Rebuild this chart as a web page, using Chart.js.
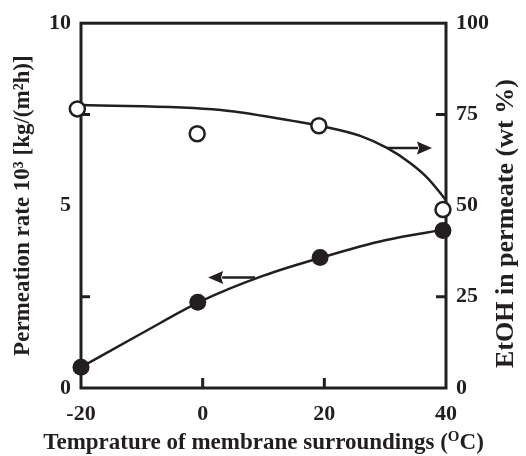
<!DOCTYPE html>
<html>
<head>
<meta charset="utf-8">
<script src="https://cdn.jsdelivr.net/npm/chart.js@4.4.1/dist/chart.umd.min.js"></script>
<style>
  html, body { margin: 0; padding: 0; background: #fff; }
  #wrap { width: 526px; height: 456px; }
</style>
</head>
<body>
<div id="wrap"><canvas id="plot" width="526" height="456"></canvas></div>
<script>
// measured points (temperature in C)
const tempRate = [-20, -0.8, 19.3, 39.5];
const rateValues = [0.57, 2.35, 3.58, 4.32];          // 10^3 kg/(m2 h), left axis
const tempEtoh = [-20.6, -0.9, 19.1, 39.5];
const etohValues = [76.5, 69.7, 71.9, 48.9];          // wt %, right axis

// hand-drawn fit curves
const rateCurveT = [-20, -10, 0, 10, 20, 30, 40];
const rateCurve = [0.57, 1.5, 2.4, 3.08, 3.6, 4.05, 4.35];
const etohCurveT = [-20, 3, 12, 20, 25.9, 30.3, 34.1, 36.9, 39, 40];
const etohCurve = [77.6, 76.2, 74.0, 71.6, 69.1, 65.8, 61.7, 57.7, 53.6, 51.4];

// axis ticks
const xTicks = [-20, 0, 20, 40];
const leftTicks = [0, 5, 10];
const rightTicks = [0, 25, 50, 75, 100];
const leftInnerTicks = [2.5, 7.5];
const rightInnerTicks = [25, 50, 75];
const bottomInnerTicks = [0, 20];

// arrows: [tailT, tipT, value]
const rateArrow = [8.6, 0.9, 3.03];
const etohArrow = [30.3, 37.7, 65.8];

const ink = "#231f20";
const serif = "'Liberation Serif', 'Times New Roman', serif";

const toXY = (xs, ys) => xs.map((x, i) => ({ x: x, y: ys[i] }));

const framePlugin = {
  id: "frame",
  beforeDatasetsDraw(chart) {
    const { ctx, chartArea: a, scales } = chart;
    ctx.save();
    ctx.strokeStyle = ink;
    ctx.lineWidth = 3;
    ctx.strokeRect(a.left, a.top, a.right - a.left, a.bottom - a.top);

    // inward ticks
    ctx.beginPath();
    leftInnerTicks.forEach(v => {
      const y = scales.y.getPixelForValue(v);
      ctx.moveTo(a.left, y); ctx.lineTo(a.left + 9, y);
    });
    rightInnerTicks.forEach(v => {
      const y = scales.y2.getPixelForValue(v);
      ctx.moveTo(a.right, y); ctx.lineTo(a.right - 10, y);
    });
    bottomInnerTicks.forEach(v => {
      const x = scales.x.getPixelForValue(v);
      ctx.moveTo(x, a.bottom); ctx.lineTo(x, a.bottom - 10);
    });
    ctx.stroke();

    // arrows pointing to the axis each curve belongs to
    function arrow(spec, yScale) {
      const x0 = scales.x.getPixelForValue(spec[0]);
      const x1 = scales.x.getPixelForValue(spec[1]);
      const y = yScale.getPixelForValue(spec[2]);
      const dir = Math.sign(x1 - x0);
      const headLen = 14, half = 6.5;
      ctx.lineWidth = 2.5;
      ctx.beginPath();
      ctx.moveTo(x0, y); ctx.lineTo(x1 - dir * headLen, y);
      ctx.stroke();
      ctx.beginPath();
      ctx.moveTo(x1, y);
      ctx.lineTo(x1 - dir * (headLen + 1), y - half);
      ctx.lineTo(x1 - dir * (headLen - 1), y);
      ctx.lineTo(x1 - dir * (headLen + 1), y + half);
      ctx.closePath();
      ctx.fillStyle = ink;
      ctx.fill();
    }
    arrow(rateArrow, scales.y);
    arrow(etohArrow, scales.y2);
    ctx.restore();
  },
  afterDraw(chart) {
    const { ctx, chartArea: a } = chart;
    ctx.save();
    ctx.fillStyle = ink;
    ctx.textBaseline = "middle";

    // right title reads bottom-to-top like the left one
    ctx.save();
    ctx.translate(506, (a.top + a.bottom) / 2 + 18);
    ctx.rotate(-Math.PI / 2);
    ctx.font = "bold 26px " + serif;
    ctx.textAlign = "center";
    ctx.fillText("EtOH in permeate (wt %)", 0, 0);
    ctx.restore();

    // bottom title, wider than the axis so drawn here (with superscript O)
    const main = "Temprature of membrane surroundings (";
    const sup = "O";
    const tail = "C)";
    const big = "bold 23px " + serif;
    const small = "bold 15px " + serif;
    ctx.font = big;
    const w1 = ctx.measureText(main).width;
    const w3 = ctx.measureText(tail).width;
    ctx.font = small;
    const w2 = ctx.measureText(sup).width;
    let x = (a.left + a.right) / 2 - (w1 + w2 + w3) / 2;
    const y = 443;
    ctx.textAlign = "left";
    ctx.font = big;
    ctx.fillText(main, x, y);
    x += w1;
    ctx.font = small;
    ctx.fillText(sup, x, y - 6);
    x += w2;
    ctx.font = big;
    ctx.fillText(tail, x, y);
    ctx.restore();
  }
};

const tickFont = { family: serif, weight: "bold", size: 22 };
const titleFont = { family: serif, weight: "bold", size: 23 };

new Chart(document.getElementById("plot"), {
  type: "scatter",
  data: {
    datasets: [
      {
        label: "rate fit",
        data: toXY(rateCurveT, rateCurve),
        yAxisID: "y",
        showLine: true,
        cubicInterpolationMode: "monotone",
        borderColor: ink,
        borderWidth: 2.5,
        pointRadius: 0,
        order: 3
      },
      {
        label: "EtOH fit",
        data: toXY(etohCurveT, etohCurve),
        yAxisID: "y2",
        showLine: true,
        cubicInterpolationMode: "monotone",
        borderColor: ink,
        borderWidth: 2.5,
        pointRadius: 0,
        order: 3
      },
      {
        label: "Permeation rate",
        data: toXY(tempRate, rateValues),
        yAxisID: "y",
        pointRadius: 8.5,
        pointBackgroundColor: ink,
        pointBorderColor: ink,
        pointBorderWidth: 0,
        clip: false,
        order: 1
      },
      {
        label: "EtOH",
        data: toXY(tempEtoh, etohValues),
        yAxisID: "y2",
        pointRadius: 7.5,
        pointBackgroundColor: "#fff",
        pointBorderColor: ink,
        pointBorderWidth: 2.5,
        clip: false,
        order: 1
      }
    ]
  },
  options: {
    responsive: false,
    animation: false,
    events: [],
    layout: { padding: { top: 22, left: 0, right: 0, bottom: 0 } },
    plugins: { legend: { display: false }, tooltip: { enabled: false } },
    scales: {
      x: {
        type: "linear",
        position: "bottom",
        min: -20, max: 40,
        afterBuildTicks: s => { s.ticks = xTicks.map(v => ({ value: v })); },
        grid: { display: false, drawTicks: false },
        border: { display: false },
        ticks: { color: ink, font: tickFont, padding: 13, maxRotation: 0 },
        title: { display: false },
        afterFit: s => { s.height = 68; }
      },
      y: {
        position: "left",
        min: 0, max: 10,
        afterBuildTicks: s => { s.ticks = leftTicks.map(v => ({ value: v })); },
        grid: { display: false, drawTicks: false },
        border: { display: false },
        ticks: { color: ink, font: tickFont, padding: 10 },
        title: {
          display: true,
          text: "Permeation rate 10\u00B3 [kg/(m\u00B2h)]",
          color: ink, font: titleFont,
          padding: { top: 9, bottom: 0 }
        },
        afterFit: s => { s.width = 81; }
      },
      y2: {
        position: "right",
        min: 0, max: 100,
        afterBuildTicks: s => { s.ticks = rightTicks.map(v => ({ value: v })); },
        grid: { display: false, drawTicks: false },
        border: { display: false },
        ticks: { color: ink, font: tickFont, padding: 10 },
        afterFit: s => { s.width = 80; }
      }
    }
  },
  plugins: [framePlugin]
});
</script>
</body>
</html>
